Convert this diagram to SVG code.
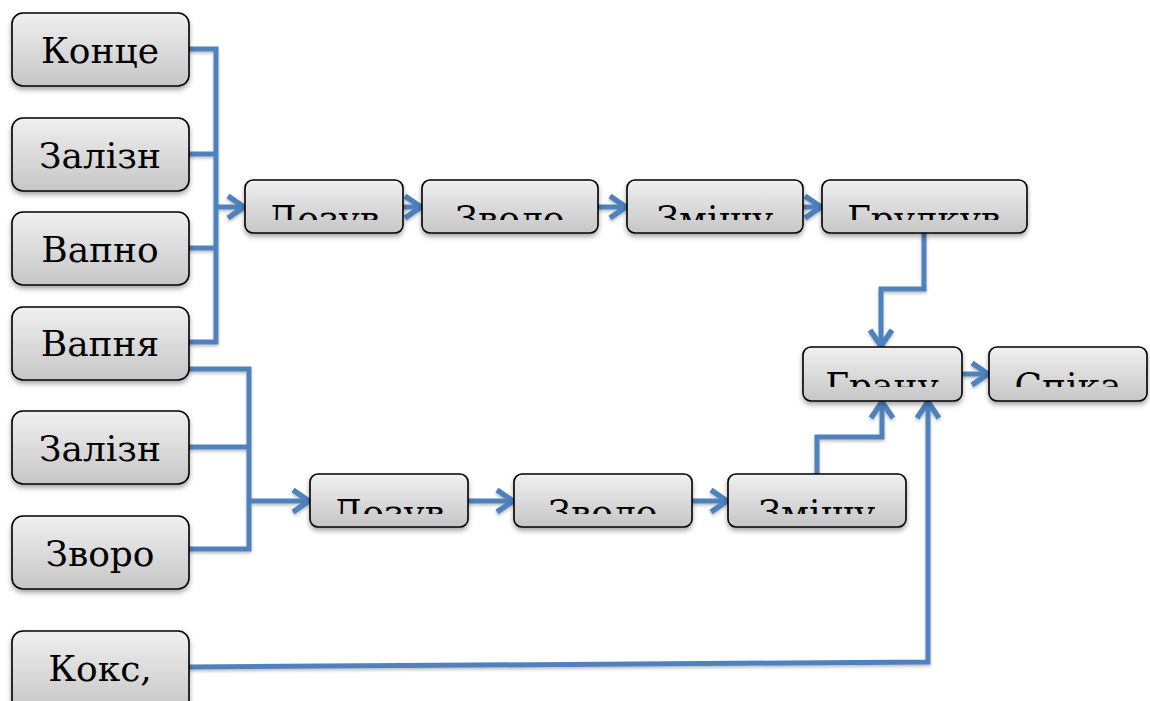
<svg xmlns="http://www.w3.org/2000/svg" width="1150" height="701" viewBox="0 0 1150 701">
<style>
.box{fill:url(#g);stroke:#000;stroke-width:1.6;filter:url(#sh)}
.t{font-family:"DejaVu Serif","Liberation Serif",serif;font-size:36px;fill:#000;text-anchor:middle}
.c{fill:none;stroke:#4F81BD;stroke-width:5;stroke-linejoin:miter}
.a{marker-end:url(#ar)}
</style>
<defs>
<linearGradient id="g" x1="0" y1="0" x2="0" y2="1">
<stop offset="0" stop-color="#f0f0f0"/>
<stop offset="1" stop-color="#c6c6c6"/>
</linearGradient>
<filter id="sh" x="-10%" y="-20%" width="130%" height="160%">
<feDropShadow dx="0" dy="3" stdDeviation="2.5" flood-color="#000" flood-opacity="0.35"/>
</filter>
<filter id="sh2" filterUnits="userSpaceOnUse" x="0" y="0" width="1150" height="701">
<feDropShadow dx="0" dy="2" stdDeviation="1.5" flood-color="#000" flood-opacity="0.25"/>
</filter>
<marker id="ar" markerUnits="userSpaceOnUse" viewBox="0 0 24 28" refX="21" refY="14" markerWidth="24" markerHeight="28" orient="auto">
<path d="M4,3 L20,14 L4,25" fill="none" stroke="#4F81BD" stroke-width="5.5"/>
</marker>
<clipPath id="k1"><rect x="245" y="180" width="158" height="40"/></clipPath>
<clipPath id="k2"><rect x="422" y="180" width="176" height="40"/></clipPath>
<clipPath id="k3"><rect x="627" y="180" width="176" height="40"/></clipPath>
<clipPath id="k4"><rect x="822" y="180" width="205" height="40"/></clipPath>
<clipPath id="k5"><rect x="803" y="347" width="159" height="40"/></clipPath>
<clipPath id="k6"><rect x="989" y="347" width="158" height="40"/></clipPath>
<clipPath id="k7"><rect x="310" y="474" width="158" height="40"/></clipPath>
<clipPath id="k8"><rect x="514" y="474" width="178" height="40"/></clipPath>
<clipPath id="k9"><rect x="728" y="474" width="178" height="40"/></clipPath>
</defs>

<g id="connectors" filter="url(#sh2)">
<path class="c" d="M189,49 H216 V342 H189"/>
<path class="c" d="M189,154 H216"/>
<path class="c" d="M189,248 H216"/>
<path class="c a" d="M216,207 H245"/>
<path class="c a" d="M403,207 H422"/>
<path class="c a" d="M598,207 H627"/>
<path class="c a" d="M803,207 H822"/>
<path class="c a" d="M924,233 V289 H881 V347"/>
<path class="c a" d="M962,374 H989"/>
<path class="c" d="M189,369 H249 V549 H189"/>
<path class="c" d="M189,447 H249"/>
<path class="c a" d="M249,501 H310"/>
<path class="c a" d="M468,501 H514"/>
<path class="c a" d="M692,501 H728"/>
<path class="c a" d="M817,474 V437 H882 V401"/>
<path class="c a" d="M189,667 L928,662 V401"/>
</g>

<g id="n1"><rect class="box" x="12" y="13" width="177" height="73" rx="11"/><text class="t" x="100" y="63">Конце</text></g>
<g id="n2"><rect class="box" x="12" y="118" width="177" height="73" rx="11"/><text class="t" x="100" y="168">Залізн</text></g>
<g id="n3"><rect class="box" x="12" y="212" width="177" height="73" rx="11"/><text class="t" x="100" y="262">Вапно</text></g>
<g id="n4"><rect class="box" x="12" y="307" width="177" height="73" rx="11"/><text class="t" x="100" y="356">Вапня</text></g>
<g id="n5"><rect class="box" x="12" y="411" width="177" height="73" rx="11"/><text class="t" x="100" y="461">Залізн</text></g>
<g id="n6"><rect class="box" x="12" y="516" width="177" height="73" rx="11"/><text class="t" x="100" y="566">Зворо</text></g>
<g id="n7"><rect class="box" x="12" y="631" width="177" height="80" rx="11"/><text class="t" x="100" y="681">Кокс,</text></g>

<g id="n8"><rect class="box" x="245" y="180" width="158" height="53" rx="8"/><text class="t" x="324" y="231" clip-path="url(#k1)">Дозув</text></g>
<g id="n9"><rect class="box" x="422" y="180" width="176" height="53" rx="8"/><text class="t" x="510" y="231" clip-path="url(#k2)">Зволо</text></g>
<g id="n10"><rect class="box" x="627" y="180" width="176" height="53" rx="8"/><text class="t" x="715" y="231" clip-path="url(#k3)">Змішу</text></g>
<g id="n11"><rect class="box" x="822" y="180" width="205" height="53" rx="8"/><text class="t" x="924" y="231" clip-path="url(#k4)">Грудкув</text></g>
<g id="n12"><rect class="box" x="803" y="347" width="159" height="54" rx="8"/><text class="t" x="882" y="398" clip-path="url(#k5)">Грану</text></g>
<g id="n13"><rect class="box" x="989" y="347" width="158" height="54" rx="8"/><text class="t" x="1068" y="398" clip-path="url(#k6)">Спіка</text></g>
<g id="n14"><rect class="box" x="310" y="474" width="158" height="53" rx="8"/><text class="t" x="389" y="525" clip-path="url(#k7)">Дозув</text></g>
<g id="n15"><rect class="box" x="514" y="474" width="178" height="53" rx="8"/><text class="t" x="603" y="525" clip-path="url(#k8)">Зволо</text></g>
<g id="n16"><rect class="box" x="728" y="474" width="178" height="53" rx="8"/><text class="t" x="817" y="525" clip-path="url(#k9)">Змішу</text></g>
</svg>
